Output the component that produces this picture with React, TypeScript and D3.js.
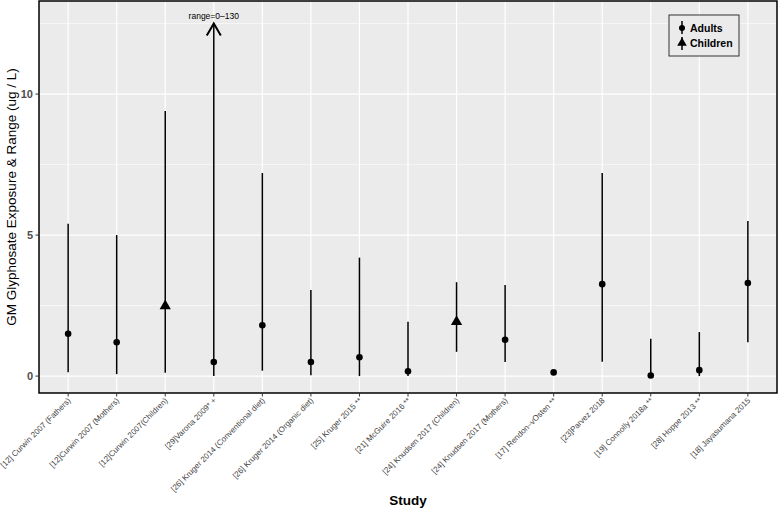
import React from "react";
import * as d3 from "d3";

const studies = [
  "[12] Curwin 2007 (Fathers)",
  "[12]Curwin 2007 (Mothers)",
  "[12]Curwin 2007(Children)",
  "[29]Varona 2009* +",
  "[26] Kruger 2014 (Conventional diet)",
  "[26] Kruger 2014 (Organic diet)",
  "[25] Kruger 2015 **",
  "[21] McGuire 2016 **",
  "[24] Knudsen 2017 (Children)",
  "[24] Knudsen 2017 (Mothers)",
  "[17] Rendon\u2013vOsten **",
  "[23]Parvez 2018",
  "[19] Connolly 2018a **",
  "[28] Hoppe 2013 **",
  "[18] Jayasumana 2015",
];
const gm = [1.5, 1.2, 2.52, 0.5, 1.8, 0.5, 0.67, 0.17, 1.96, 1.29, 0.13, 3.26, 0.02, 0.21, 3.3];
const low = [0.14, 0.07, 0.12, 0.0, 0.19, 0.03, 0.0, 0.0, 0.86, 0.5, 0.07, 0.51, 0.0, 0.0, 1.2];
const high = [5.4, 5.0, 9.4, 12.5, 7.2, 3.05, 4.2, 1.93, 3.33, 3.23, 0.2, 7.2, 1.32, 1.56, 5.5];
const group = ["Adults", "Adults", "Children", "Adults", "Adults", "Adults", "Adults", "Adults", "Children", "Adults", "Adults", "Adults", "Adults", "Adults", "Adults"];
const arrowIdx = 3;
const arrowLabel = "range=0\u2013130";
const yTicks = [0, 5, 10];
const yMinor = [2.5, 7.5, 12.5];

const W = 778, H = 511;
const pL = 39, pR = 777, pT = 1, pB = 393;

export default function App() {
  const x = d3.scalePoint<string>().domain(studies).range([pL, pR]).padding(0.6);
  const y = d3.scaleLinear().domain([-0.6, 13.3]).range([pB, pT]);
  const font = "'Liberation Sans', Arial, Helvetica, sans-serif";
  const tri = d3.symbol().type(d3.symbolTriangle).size(55)();
  const triSmall = d3.symbol().type(d3.symbolTriangle).size(40)();
  return (
    <svg width={W} height={H} style={{ position: "absolute", left: 0, top: 0 }} fontFamily={font}>
      <rect x={pL} y={pT} width={pR - pL} height={pB - pT} fill="#ebebeb" />
      {yMinor.map((v) => (
        <line key={"mn" + v} x1={pL} x2={pR} y1={y(v)} y2={y(v)} stroke="#fff" strokeWidth={0.6} />
      ))}
      {yTicks.map((v) => (
        <line key={"mj" + v} x1={pL} x2={pR} y1={y(v)} y2={y(v)} stroke="#fff" strokeWidth={1.2} />
      ))}
      {studies.map((s) => (
        <line key={"vg" + s} x1={x(s)} x2={x(s)} y1={pT} y2={pB} stroke="#fff" strokeWidth={1.2} />
      ))}
      {studies.map((s, i) => {
        const cx = x(s)!;
        const isArrow = i === arrowIdx;
        return (
          <g key={"m" + s}>
            <line x1={cx} x2={cx} y1={y(low[i])} y2={y(high[i])} stroke="#000" strokeWidth={1.5} />
            {isArrow && (
              <polyline
                points={`${cx - 7},${y(high[i]) + 12} ${cx},${y(high[i])} ${cx + 7},${y(high[i]) + 12}`}
                fill="none"
                stroke="#000"
                strokeWidth={2}
              />
            )}
            {isArrow && (
              <text x={cx} y={y(high[i]) - 5} fontSize={8.5} textAnchor="middle" fill="#000">
                {arrowLabel}
              </text>
            )}
            {group[i] === "Adults" ? (
              <circle cx={cx} cy={y(gm[i])} r={3.3} fill="#000" />
            ) : (
              <path d={tri!} transform={`translate(${cx},${y(gm[i]) + 1})`} fill="#000" />
            )}
          </g>
        );
      })}
      <rect x={pL} y={pT} width={pR - pL} height={pB - pT} fill="none" stroke="#000" strokeWidth={1.5} />
      {yTicks.map((v) => (
        <g key={"yt" + v}>
          <line x1={pL - 3.5} x2={pL} y1={y(v)} y2={y(v)} stroke="#333" strokeWidth={1} />
          <text x={pL - 6} y={y(v)} dy="0.35em" fontSize={11} fontWeight="bold" textAnchor="end" fill="#4d4d4d">
            {v}
          </text>
        </g>
      ))}
      {studies.map((s) => {
        const cx = x(s)!;
        return (
          <g key={"xt" + s}>
            <line x1={cx} x2={cx} y1={pB} y2={pB + 3.5} stroke="#333" strokeWidth={1} />
            <text
              transform={`translate(${cx + 3},${pB + 8}) rotate(-45)`}
              fontSize={8}
              textAnchor="end"
              fill="#444"
            >
              {s}
            </text>
          </g>
        );
      })}
      <text
        transform={`translate(11,${(pT + pB) / 2}) rotate(-90)`}
        fontSize={13.5}
        textAnchor="middle"
        dy="0.35em"
        fill="#000"
      >
        GM Glyphosate Exposure &amp; Range (ug / L)
      </text>
      <text x={(pL + pR) / 2} y={505} fontSize={13.5} fontWeight="bold" textAnchor="middle" fill="#000">
        Study
      </text>
      <g>
        <rect x={669} y={15} width={70} height={41} fill="#ebebeb" stroke="#333" strokeWidth={1} />
        <line x1={682} x2={682} y1={21} y2={34} stroke="#000" strokeWidth={1.5} />
        <circle cx={682} cy={28} r={3} fill="#000" />
        <line x1={682} x2={682} y1={37} y2={50} stroke="#000" strokeWidth={1.5} />
        <path d={triSmall!} transform={`translate(682,43)`} fill="#000" />
        <text x={690} y={28} dy="0.35em" fontSize={10.5} fontWeight="bold" fill="#000">Adults</text>
        <text x={690} y={43} dy="0.35em" fontSize={10.5} fontWeight="bold" fill="#000">Children</text>
      </g>
    </svg>
  );
}
